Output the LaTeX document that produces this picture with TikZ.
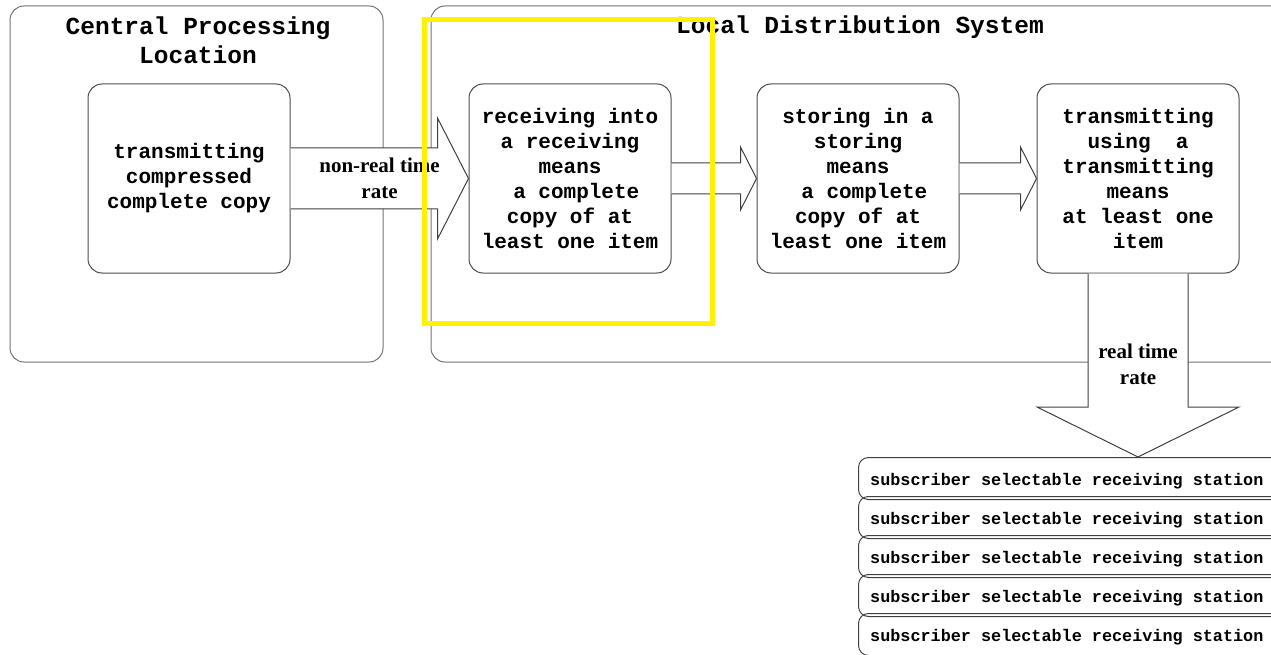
\documentclass[tikz,border=0pt]{standalone}
\usepackage{fontspec}
\setmainfont{Liberation Serif}
\setmonofont{Liberation Mono}
\usetikzlibrary{calc,positioning}
\tikzset{
  frame/.style={draw=black!55,line width=1pt,rounded corners=14pt},
  frametitle/.style={align=center,inner sep=0pt,font=\ttfamily\bfseries\fontsize{24.5}{29}\selectfont},
  stepbox/.style={draw=black!70,line width=1pt,rounded corners=14pt,minimum width=202pt,minimum height=189pt,inner sep=0pt,align=center,font=\ttfamily\bfseries\fontsize{21}{25}\selectfont},
  blockarrow/.style={draw=black!75,fill=white,line width=1pt,line join=miter},
  ratelabel/.style={align=center,inner sep=0pt,font=\bfseries\fontsize{21}{25.5}\selectfont},
  subbox/.style={draw=black!75,line width=1pt,rounded corners=10pt,anchor=north west,minimum width=450pt,minimum height=42pt},
  subtext/.style={anchor=base west,inner sep=0pt,font=\ttfamily\bfseries\fontsize{16.8}{20}\selectfont},
  highlight/.style={draw=yellow,line width=5pt}
}
\begin{document}
\begin{tikzpicture}[x=1pt,y=-1pt]
\path[use as bounding box,clip](0,0)rectangle(1271,655);
% the two locations
\draw[frame](10,6)rectangle(383,362);
\draw[frame](431,6)rectangle(1300,362);
\node[frametitle](cpl) at (198,40){Central Processing\\Location};
\node[frametitle](lds) at (860,27){Local Distribution System};
% steps
\node[stepbox](tx) at (189,178.5){transmitting\\compressed\\complete copy};
\node[stepbox](rx) at (570,178.5){receiving into\\a receiving\\means\\~a complete\\copy of at\\least one item};
\node[stepbox](st) at (858,178.5){storing in a\\storing\\means\\~a complete\\copy of at\\least one item};
\node[stepbox](tr) at (1138,178.5){transmitting\\using~~a\\transmitting\\means\\at least one\\item};
% receiving stations
\foreach \i in {1,...,5}{
  \node[subbox](s\i) at (858,{418+39*\i}){};
  \node[subtext](t\i) at ($(s\i.north west)+(12,28)$){subscriber selectable receiving station};
}
\coordinate (tip) at (tr.south |- s1.north);
% block arrows
\draw[blockarrow]($(tx.east)+(0,-30.5)$)--($(rx.west)+(-31,-30.5)$)--($(rx.west)+(-31,-60.5)$)--(rx.west)
  --($(rx.west)+(-31,60.5)$)--($(rx.west)+(-31,30.5)$)--($(tx.east)+(0,30.5)$);
\draw[blockarrow]($(rx.east)+(0,-15.5)$)--($(st.west)+(-16,-15.5)$)--($(st.west)+(-16,-31.5)$)--(st.west)
  --($(st.west)+(-16,31.5)$)--($(st.west)+(-16,15.5)$)--($(rx.east)+(0,15.5)$);
\draw[blockarrow]($(st.east)+(0,-15.5)$)--($(tr.west)+(-16,-15.5)$)--($(tr.west)+(-16,-31.5)$)--(tr.west)
  --($(tr.west)+(-16,31.5)$)--($(tr.west)+(-16,15.5)$)--($(st.east)+(0,15.5)$);
\draw[blockarrow]($(tr.south)+(-50,0)$)--($(tip)+(-50,-50)$)--($(tip)+(-101,-50)$)--(tip)
  --($(tip)+(101,-50)$)--($(tip)+(50,-50)$)--($(tr.south)+(50,0)$);
\node[ratelabel](nrt) at ($(tx.east)!0.5!(rx.west)$){non-real time\\rate};
\node[ratelabel](rt) at ($(tr.south)+(0,91)$){real time\\rate};
% highlight
\draw[highlight](424.5,20)rectangle(712.5,323.5);
\end{tikzpicture}
\end{document}
